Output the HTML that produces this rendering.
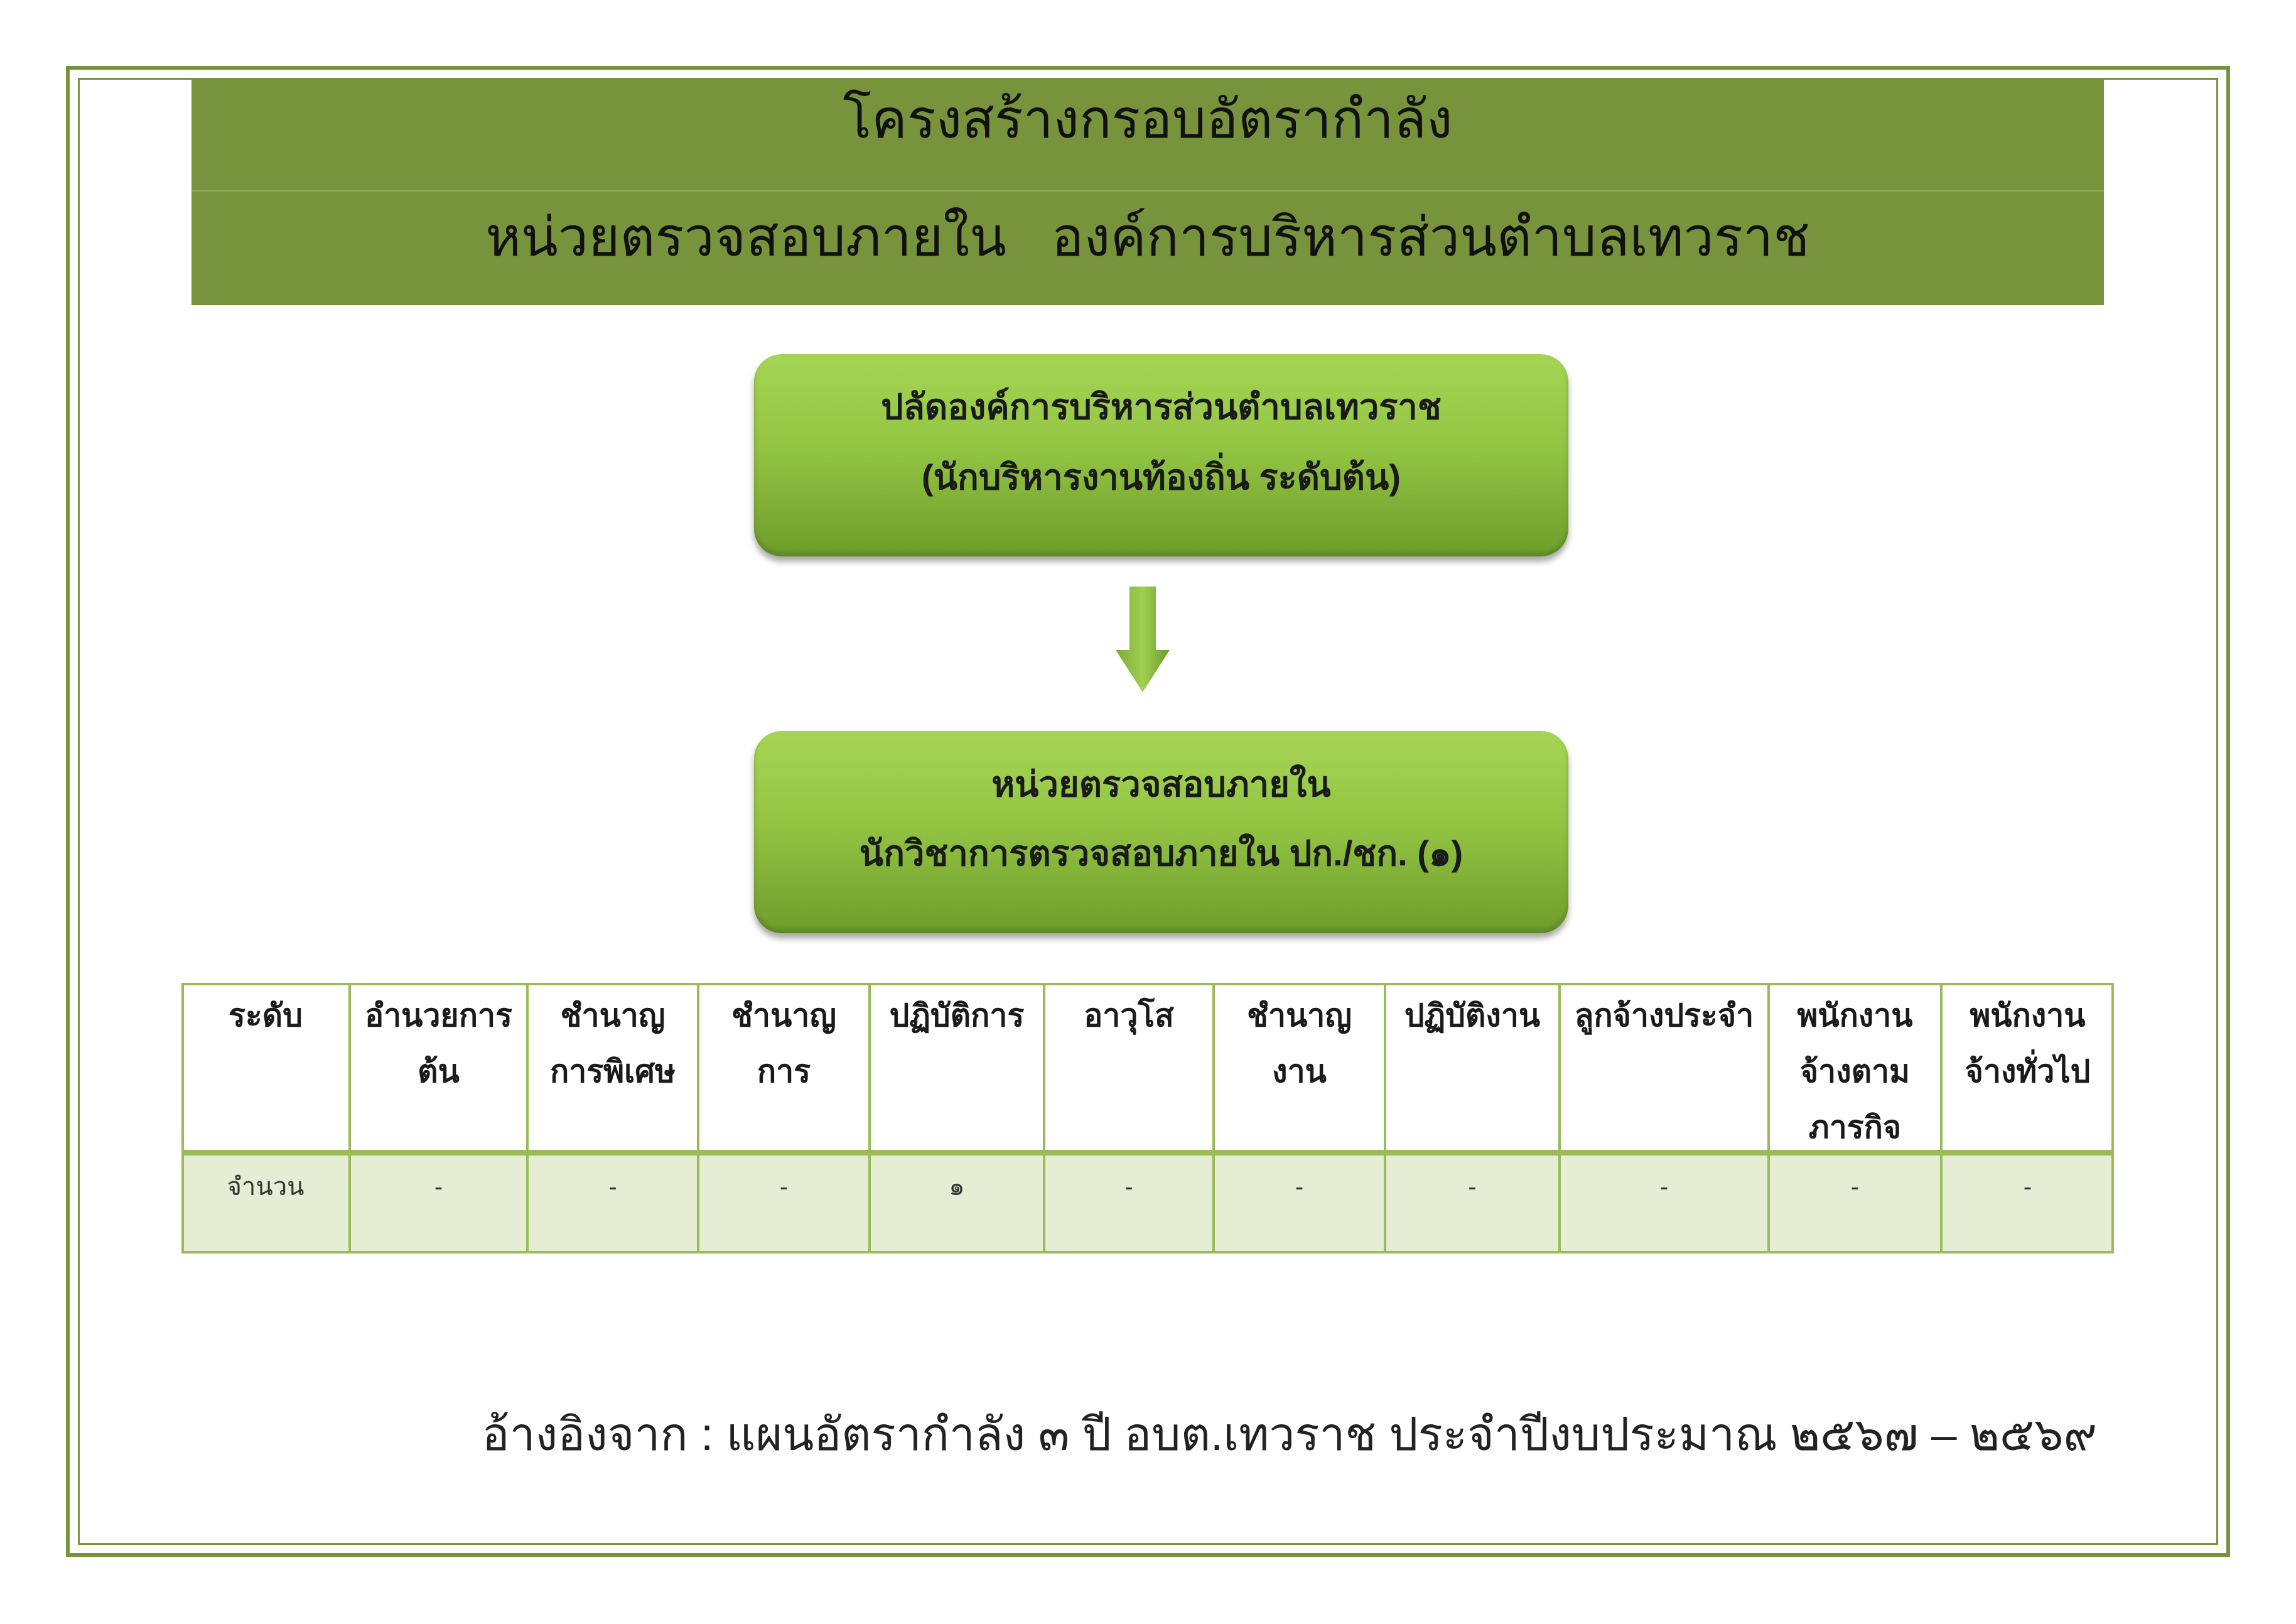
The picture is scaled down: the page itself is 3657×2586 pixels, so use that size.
<!DOCTYPE html>
<html><head><meta charset="utf-8">
<style>
html,body{margin:0;padding:0;background:#fff;}
body{width:3657px;height:2586px;position:relative;overflow:hidden;font-family:"Liberation Sans","DejaVu Sans","Noto Sans CJK SC",sans-serif;color:#111;}
.abs{position:absolute;}
.c{text-align:center;white-space:nowrap;}
.box{position:absolute;left:1201px;width:1297px;height:322px;border-radius:44px;
background:linear-gradient(180deg,#a6d555 0%,#93c543 45%,#6f9d2c 100%);
box-shadow:0 8px 10px rgba(0,0,0,0.35), inset 0 -6px 8px rgba(60,90,20,0.35);}
.bt{position:absolute;left:0;width:100%;text-align:center;font-weight:bold;font-size:56px;line-height:70px;color:#1a1a1a;}
.cell{position:absolute;box-sizing:border-box;text-align:center;}
.h{font-weight:bold;font-size:50px;line-height:89px;padding-top:8px;color:#1a1a1a;}
.d{font-size:40px;line-height:60px;padding-top:20px;color:#333;}
</style></head><body>
<div class="abs" style="left:105px;top:105px;width:3447px;height:2374px;border:6px solid #77933c;box-sizing:border-box;"></div>
<div class="abs" style="left:124px;top:124px;width:3409px;height:2336px;border:3px solid #77933c;box-sizing:border-box;"></div>
<div class="abs" style="left:305px;top:126px;width:3046px;height:360px;background:#77933c;"></div>
<div class="abs" style="left:305px;top:303px;width:3046px;height:2px;background:#8fab55;"></div>
<div class="abs c" style="left:305px;width:3046px;top:131px;height:120px;line-height:120px;font-size:85px;color:#111;">โครงสร้างกรอบอัตรากำลัง</div>
<div class="abs c" style="left:305px;width:3046px;top:318px;height:120px;line-height:120px;font-size:86px;color:#111;">หน่วยตรวจสอบภายใน&nbsp;&nbsp; องค์การบริหารส่วนตำบลเทวราช</div>
<div class="box" style="top:564px;">
<div class="bt" style="top:49px;">ปลัดองค์การบริหารส่วนตำบลเทวราช</div>
<div class="bt" style="top:161px;">(นักบริหารงานท้องถิ่น ระดับต้น)</div>
</div>
<svg class="abs" style="left:1775px;top:930px;" width="95" height="180">
<defs><linearGradient id="ag" x1="0" x2="1"><stop offset="0" stop-color="#7aab35"/><stop offset="0.5" stop-color="#a0d050"/><stop offset="1" stop-color="#6a9a2a"/></linearGradient></defs>
<polygon points="24,4 66,4 66,105 88,105 45,172 2,105 24,105" fill="url(#ag)"/>
</svg>
<div class="box" style="top:1164px;">
<div class="bt" style="top:50px;">หน่วยตรวจสอบภายใน</div>
<div class="bt" style="top:160px;">นักวิชาการตรวจสอบภายใน ปก./ชก. (๑)</div>
</div>
<div class="abs" style="left:289px;top:1565px;width:3078px;height:431px;border:4px solid #9bbb59;box-sizing:border-box;background:#fff;"></div>
<div class="abs" style="left:289px;top:1835px;width:3078px;height:161px;background:#e5edd4;border:4px solid #9bbb59;border-top:none;box-sizing:border-box;"></div>
<div class="abs" style="left:289px;top:1831px;width:3078px;height:9px;background:#9bbb59;"></div>
<div id="cols"></div>
<script>
var xs=[289,557,840,1112,1385,1663,1933,2206,2484,2817,3092,3367];
var hd=["ระดับ","อำนวยการ<br>ต้น","ชำนาญ<br>การพิเศษ","ชำนาญ<br>การ","ปฏิบัติการ","อาวุโส","ชำนาญ<br>งาน","ปฏิบัติงาน","ลูกจ้างประจำ","พนักงาน<br>จ้างตาม<br>ภารกิจ","พนักงาน<br>จ้างทั่วไป"];
var dd=["จำนวน","-","-","-","๑","-","-","-","-","-","-"];
var h="";
for(var i=0;i<11;i++){
 var l=xs[i],w=xs[i+1]-xs[i];
 if(i>0) h+='<div class="abs" style="left:'+(l-2)+'px;top:1565px;width:4px;height:431px;background:#9bbb59;"></div>';
 h+='<div class="cell h" style="left:'+l+'px;top:1565px;width:'+w+'px;height:266px;">'+hd[i]+'</div>';
 h+='<div class="cell d" style="left:'+l+'px;top:1840px;width:'+w+'px;height:150px;">'+dd[i]+'</div>';
}
document.getElementById("cols").innerHTML=h;
</script>
<div class="abs" style="right:317px;top:2235px;height:100px;line-height:100px;font-size:73px;white-space:nowrap;color:#222;">อ้างอิงจาก : แผนอัตรากำลัง ๓ ปี อบต.เทวราช ประจำปีงบประมาณ ๒๕๖๗ – ๒๕๖๙</div>
</body></html>
